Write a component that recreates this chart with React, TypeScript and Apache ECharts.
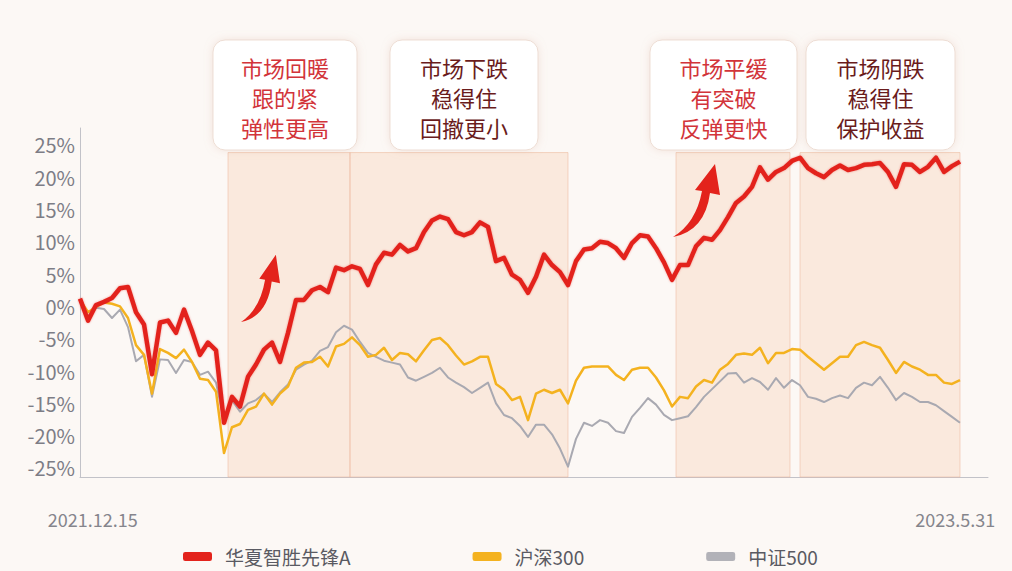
import React, { useEffect, useRef } from 'react';
import * as echarts from 'echarts';

const seriesNames = ['华夏智胜先锋A', '沪深300', '中证500'];
const startDate = '2021.12.15';
const endDate = '2023.5.31';
const yTicks = [-25, -20, -15, -10, -5, 0, 5, 10, 15, 20, 25];

const fundA = [
  1.2, -2.2, 0.2, 0.7, 1.3, 2.8, 3.0, -0.9, -2.8, -10.5,
  -2.5, -2.2, -4.1, -0.5, -3.8, -7.5, -5.6, -6.8, -18.0, -14.0,
  -15.5, -10.9, -9.0, -6.7, -5.6, -8.6, -4.1, 1.0, 1.0, 2.5,
  3.0, 2.2, 6.0, 5.6, 6.2, 5.8, 3.3, 6.5, 8.3, 8.0,
  9.5, 8.5, 9.0, 11.5, 13.3, 13.9, 13.5, 11.5, 11.0, 11.5,
  13.0, 12.3, 7.0, 7.5, 4.9, 4.1, 2.1, 4.6, 8.0, 6.4,
  5.3, 3.3, 7.0, 8.8, 9.0, 10.0, 9.8, 9.0, 7.5, 9.8,
  11.0, 10.8, 9.0, 6.8, 4.1, 6.4, 6.4, 9.3, 10.6, 10.3,
  11.8, 13.8, 16.0, 17.0, 18.5, 21.5, 19.6, 20.8, 21.4, 22.5,
  23.0, 21.4, 20.6, 20.0, 21.1, 21.8, 21.1, 21.4, 21.9, 22.0,
  22.2, 20.8, 18.5, 22.0, 21.9, 20.8, 21.6, 23.0, 20.8, 21.7,
  22.4,
];

const hs300 = [
  1.0, -0.9, -0.1, 0.6, 0.4, 0.0, -1.8, -6.0, -7.5, -13.5,
  -6.6, -7.2, -8.0, -6.7, -8.6, -11.2, -11.4, -13.2, -22.7, -18.7,
  -18.2, -16.0, -15.5, -13.5, -15.2, -13.5, -12.4, -9.5, -8.7, -8.6,
  -7.8, -9.3, -6.2, -5.8, -4.8, -6.0, -7.8, -7.5, -6.4, -8.3,
  -7.2, -7.4, -8.5, -6.8, -5.2, -4.9, -6.0, -7.6, -9.0, -8.5,
  -7.8, -7.8, -12.0, -12.9, -14.5, -14.0, -17.6, -13.5, -12.9, -13.4,
  -12.9, -15.0, -11.5, -9.5, -9.3, -9.3, -9.3, -10.6, -11.4, -9.8,
  -9.5, -9.5, -11.0, -13.0, -15.5, -14.0, -14.2, -12.4, -11.4, -11.8,
  -9.8, -8.9, -7.5, -7.3, -7.5, -6.4, -8.8, -7.2, -7.2, -6.6,
  -6.7, -7.8, -8.8, -9.8, -8.8, -7.8, -7.8, -6.0, -5.5, -6.0,
  -6.4, -8.3, -10.3, -8.6, -9.3, -9.8, -10.6, -10.6, -11.8, -12.0,
  -11.4,
];

const zz500 = [
  0.8, -1.6, -0.2, -0.4, -1.8, -0.5, -3.2, -8.5, -7.5, -14.0,
  -8.2, -8.3, -10.3, -8.3, -8.6, -10.6, -10.1, -11.8, -17.6, -14.5,
  -16.3, -15.0, -14.5, -13.5, -14.8, -13.3, -12.1, -9.8, -9.0, -8.4,
  -6.9, -6.3, -4.0, -3.0, -3.6, -5.5, -7.2, -7.8, -8.4, -8.7,
  -9.0, -11.0, -11.5, -10.9, -10.3, -9.5, -11.0, -11.8, -12.5, -13.4,
  -12.6, -11.8, -15.0, -16.8, -17.3, -18.5, -20.2, -18.3, -18.3, -19.8,
  -22.0, -24.8, -20.5, -18.0, -18.5, -17.6, -18.0, -19.3, -19.6, -17.1,
  -15.7, -14.2, -15.2, -16.8, -17.6, -17.3, -17.0, -15.6, -14.0, -12.8,
  -11.6, -10.4, -10.3, -11.8, -11.1, -11.7, -12.9, -11.1, -12.6, -11.4,
  -12.2, -14.0, -14.3, -14.8, -14.2, -13.8, -14.2, -12.6, -11.8, -12.2,
  -10.9, -12.6, -14.5, -13.4, -14.0, -14.8, -14.8, -15.3, -16.2, -17.1,
  -18.0,
];

// phase bands, in trading-step index units
const phaseStarts = [18.5, 33.75, 74.5, 90];
const phaseEnds = [33.75, 61, 88.75, 110];
const phaseTexts = [
  ['市场回暖', '跟的紧', '弹性更高'],
  ['市场下跌', '稳得住', '回撤更小'],
  ['市场平缓', '有突破', '反弹更快'],
  ['市场阴跌', '稳得住', '保护收益'],
];

const FONT = "'Noto Sans CJK SC', 'Noto Sans', sans-serif";

const ARROW_D = 'M0 0 Q32 -6 37 -44 L47 -42 L42 -73 L22 -47 L29 -46 Q23 -14 0 0 Z';

let registered = false;

export default function App() {
  const ref = useRef<HTMLDivElement>(null);

  useEffect(() => {
    document.body.style.margin = '0';
    if (!registered) {
      echarts.graphic.registerShape('arrowUp', echarts.graphic.extendPath(ARROW_D, {}) as any);
      registered = true;
    }
    const chart = echarts.init(ref.current!, null, { renderer: 'svg' });

    const toPairs = (arr: number[]) => arr.map((v, i) => [i, v]);

    const boxes = [
      { x: 213, w: 144, color: '#d2343a' },
      { x: 390, w: 148, color: '#6a1c1c' },
      { x: 650, w: 147, color: '#d2343a' },
      { x: 806, w: 149, color: '#6a1c1c' },
    ];
    const lineYs = [67, 97, 127];

    const graphics: any[] = [];
    boxes.forEach((b, k) => {
      graphics.push({
        type: 'rect',
        shape: { x: b.x, y: 40, width: b.w, height: 110, r: 12 },
        style: {
          fill: '#ffffff',
          stroke: 'rgba(236,218,208,0.9)',
          lineWidth: 1,
          shadowBlur: 8,
          shadowColor: 'rgba(210,160,140,0.25)',
        },
        z: 10,
      });
      phaseTexts[k].forEach((t, j) => {
        graphics.push({
          type: 'text',
          x: b.x + b.w / 2,
          y: lineYs[j],
          style: {
            text: t,
            fill: b.color,
            font: `22px ${FONT}`,
            align: 'center',
            verticalAlign: 'middle',
          },
          z: 11,
        });
      });
    });
    graphics.push({
      type: 'arrowUp',
      x: 241,
      y: 322,
      scaleX: 0.83,
      scaleY: 0.92,
      style: { fill: '#e3231c' },
      z: 12,
    });
    graphics.push({
      type: 'arrowUp',
      x: 673,
      y: 237,
      scaleX: 1,
      scaleY: 1,
      style: { fill: '#e3231c' },
      z: 12,
    });

    chart.setOption({
      animation: false,
      backgroundColor: '#fcf8f5',
      textStyle: { fontFamily: FONT },
      grid: { left: 80, right: 24, top: 128, bottom: 94 },
      legend: {
        data: seriesNames,
        left: 178,
        top: 542,
        icon: 'roundRect',
        itemWidth: 29,
        itemHeight: 9,
        itemGap: 122,
        textStyle: { fontSize: 19, color: '#5a5a62', padding: [0, 0, 0, 8], fontFamily: FONT },
      },
      xAxis: {
        type: 'value',
        min: 0,
        max: 113.5,
        axisLine: { show: true, onZero: false, lineStyle: { color: '#c2c2c8', width: 1 } },
        axisTick: { show: false },
        splitLine: { show: false },
        axisLabel: {
          customValues: [1.6, 109.4],
          formatter: (v: number) => (v < 50 ? startDate : endDate),
          color: '#85858c',
          fontSize: 18,
          margin: 33,
        },
      },
      yAxis: {
        type: 'value',
        min: -26.4,
        max: 27.6,
        axisLine: { show: true, lineStyle: { color: '#c2c2c8', width: 1 } },
        axisTick: { show: false },
        splitLine: { show: false },
        axisLabel: {
          customValues: yTicks,
          formatter: (v: number) => `${v}%`,
          color: '#7d7d86',
          fontSize: 20,
          margin: 5,
        },
      },
      graphic: graphics,
      series: [
        {
          name: seriesNames[2],
          type: 'line',
          data: toPairs(zz500),
          showSymbol: false,
          color: '#b2b2b8',
          lineStyle: { width: 2, color: '#a9a9b1', join: 'round' },
          z: 2,
          markArea: {
            silent: true,
            label: { show: false },
            itemStyle: {
              color: 'rgba(247,212,188,0.42)',
              borderColor: 'rgba(236,184,156,0.55)',
              borderWidth: 1,
            },
            data: phaseStarts.map((s, k) => [
              { xAxis: s, yAxis: 23.8 },
              { xAxis: phaseEnds[k], yAxis: -26.4 },
            ]),
          },
        },
        {
          name: seriesNames[1],
          type: 'line',
          data: toPairs(hs300),
          showSymbol: false,
          color: '#f4b21f',
          lineStyle: { width: 2.5, color: '#f4b21f', join: 'round' },
          z: 3,
        },
        {
          name: seriesNames[0],
          type: 'line',
          data: toPairs(fundA),
          showSymbol: false,
          color: '#e3231c',
          lineStyle: {
            width: 4.5,
            color: '#e3231c',
            join: 'round',
            shadowBlur: 2,
            shadowColor: 'rgba(227,35,28,0.35)',
          },
          z: 4,
        },
      ],
    });

    return () => chart.dispose();
  }, []);

  return (
    <div
      ref={ref}
      style={{ position: 'absolute', left: 0, top: 0, width: 1012, height: 571 }}
    />
  );
}
